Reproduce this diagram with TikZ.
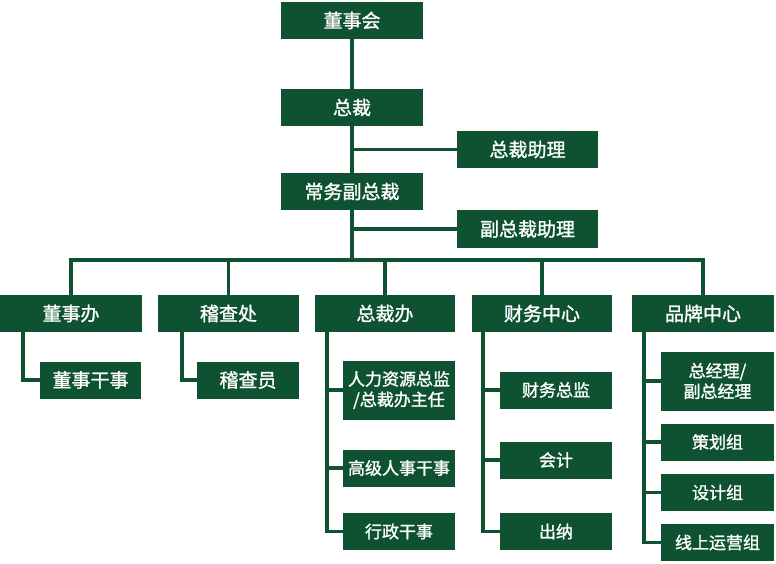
\documentclass[tikz,border=0pt]{standalone}
\usepackage{fontspec}
\setmainfont{Noto Sans CJK SC}[AutoFakeBold=1.3]
\usetikzlibrary{positioning}
\definecolor{orggreen}{RGB}{14,82,50}
\tikzset{
  unit/.style={fill=orggreen, text=white, inner sep=0pt, minimum height=37pt, align=center, font=\fontsize{19}{22}\selectfont\bfseries},
  subunit/.style={unit, font=\fontsize{17}{20.5}\selectfont\bfseries},
  link/.style={draw=orggreen, line width=3.5pt},
}
\begin{document}
\begin{tikzpicture}[x=1pt, y=-1pt]
    \useasboundingbox (0,0) rectangle (776,564);
    \node[unit, minimum width=142pt] (board) at (352,20.5) {董事会};
    \node[unit, minimum width=142pt] (ceo) at (352,107.5) {总裁};
    \node[unit, minimum width=141pt] (ceo-asst) at (527.5,149.5) {总裁助理};
    \node[unit, minimum width=142pt] (evp) at (352,191.5) {常务副总裁};
    \node[unit, minimum width=141pt] (vp-asst) at (527.5,229) {副总裁助理};
    \coordinate (bus) at (352,260);

    \node[unit, minimum width=142pt] (office) at (71,313.5) {董事办};
    \node[unit, minimum width=141pt] (audit) at (228.5,313.5) {稽查处};
    \node[unit, minimum width=140pt] (ceo-office) at (385,313.5) {总裁办};
    \node[unit, minimum width=140pt] (finance) at (542,313.5) {财务中心};
    \node[unit, minimum width=142pt] (brand) at (703,313.5) {品牌中心};

    \node[unit, minimum width=101pt] (office-clerk) at (90.5,380) {董事干事};
    \node[unit, minimum width=102pt] (auditor) at (248,380) {稽查员};

    \node[subunit, minimum width=112pt, minimum height=59pt] (hr) at (399,390) {人力资源总监\\/总裁办主任};
    \node[subunit, minimum width=112pt] (hr-clerk) at (399,468) {高级人事干事};
    \node[subunit, minimum width=112pt] (admin) at (399,531.5) {行政干事};

    \node[subunit, minimum width=112pt] (cfo) at (556,390) {财务总监};
    \node[subunit, minimum width=112pt] (accountant) at (556,460) {会计};
    \node[subunit, minimum width=112pt] (cashier) at (556,531.5) {出纳};

    \node[subunit, minimum width=113pt, minimum height=59pt] (gm) at (717.5,381) {总经理/\\副总经理};
    \node[subunit, minimum width=113pt] (planning) at (717.5,442) {策划组};
    \node[subunit, minimum width=113pt] (design) at (717.5,492.5) {设计组};
    \node[subunit, minimum width=113pt] (online) at (717.5,542.5) {线上运营组};

    \coordinate[right=23pt of office.south west] (office-rail);
    \coordinate[right=24pt of audit.south west] (audit-rail);
    \coordinate[right=12pt of ceo-office.south west] (ceo-office-rail);
    \coordinate[right=11pt of finance.south west] (finance-rail);
    \coordinate[right=12pt of brand.south west] (brand-rail);

    \draw[link] (board) -- (ceo);
    \draw[link] (ceo) -- (evp);
    \draw[link] (ceo.south |- ceo-asst.west) -- (ceo-asst.west);
    \draw[link] (evp.south) -- (evp.south |- bus);
    \draw[link] (evp.south |- vp-asst.west) -- (vp-asst.west);
    \draw[link] (office.north) |- (brand.north |- bus) -- (brand.north);
    \foreach \dept in {audit, ceo-office, finance}
        \draw[link] (\dept.north) -- (\dept.north |- bus);

    \draw[link] (office-rail) |- (office-clerk.west);
    \draw[link] (audit-rail) |- (auditor.west);
    \foreach \staff in {hr, hr-clerk, admin}
        \draw[link] (ceo-office-rail) |- (\staff.west);
    \foreach \staff in {cfo, accountant, cashier}
        \draw[link] (finance-rail) |- (\staff.west);
    \foreach \staff in {gm, planning, design, online}
        \draw[link] (brand-rail) |- (\staff.west);
\end{tikzpicture}
\end{document}
